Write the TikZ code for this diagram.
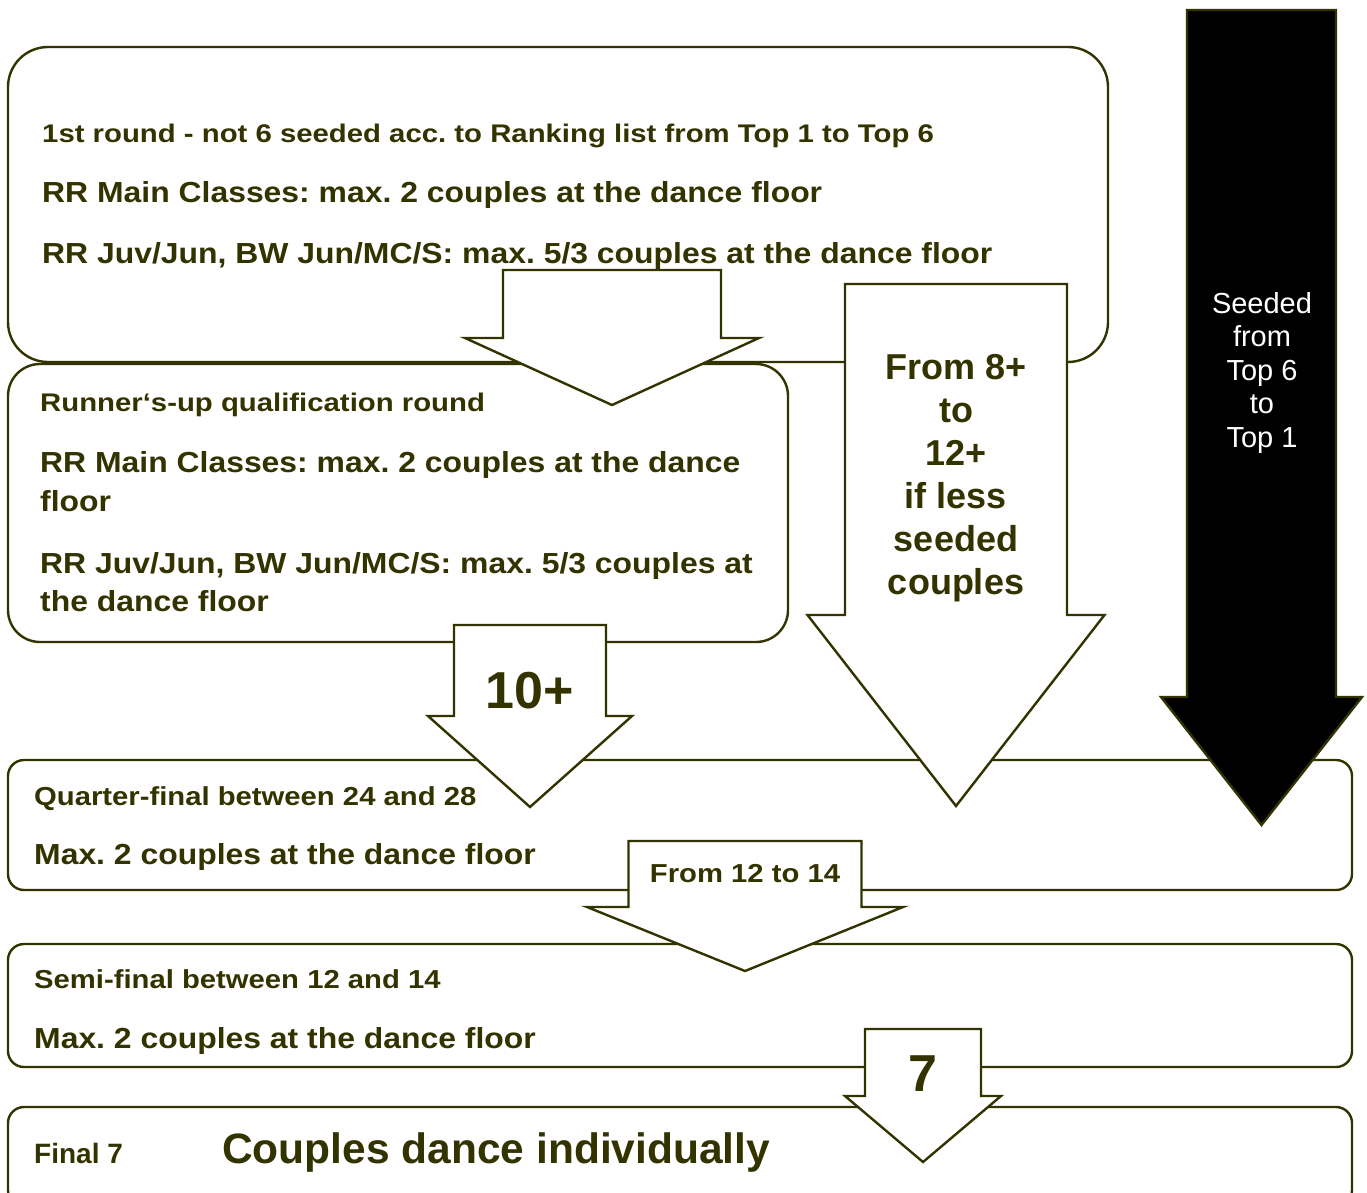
\documentclass[tikz,border=0pt]{standalone}
\usepackage{fontspec}
\usepackage{graphicx}
\setmainfont{Liberation Sans}
\definecolor{olive}{HTML}{333300}
\newcommand\myblockarrow[7]{% style, cx, top, shaft half, head base, head half, tip
  \draw[arrowshape,#1] (#2-#4,#3) -- (#2+#4,#3) -- (#2+#4,#5) -- (#2+#6,#5) -- (#2,#7) -- (#2-#6,#5) -- (#2-#4,#5) -- cycle;}
\newcommand\fs[1]{\fontsize{#1}{#1}\selectfont\bfseries}
\newcommand\hs[3]{\scalebox{#1}[1]{\fontsize{#2}{#2}\selectfont\bfseries #3}}
\frenchspacing
\begin{document}
\begin{tikzpicture}[x=1pt,y=-1pt,
  stagebox/.style={draw=olive,line width=2.4pt,fill=white},
  arrowshape/.style={draw=olive,line width=2.4pt,fill=white,line join=miter},
  lbl/.style={anchor=base west,inner sep=0pt,text=olive},
  ctr/.style={anchor=base,inner sep=0pt,text=olive}]
\useasboundingbox[fill=white] (0,0) rectangle (1367,1193);
% stage boxes
\draw[stagebox,rounded corners=40pt] (8,47) rectangle (1108,362);
\draw[stagebox,rounded corners=32pt] (8,364) rectangle (788,642);
\draw[stagebox,rounded corners=16pt] (8,760) rectangle (1352,890);
\draw[stagebox,rounded corners=16pt] (8,944) rectangle (1352,1067);
\draw[stagebox,rounded corners=16pt] (8,1107) rectangle (1352,1206);
% block arrows
\myblockarrow{}{612}{270}{109}{338}{147}{405}
\myblockarrow{}{956}{284}{111}{615}{148.5}{806}
\myblockarrow{fill=black}{1261.5}{10}{74.5}{697}{100.5}{825}
\myblockarrow{}{530}{625}{76}{716}{102}{807}
\myblockarrow{}{745}{841}{116.5}{907}{158}{971}
\myblockarrow{}{923}{1029}{58}{1096}{78}{1162}
% texts
\node[lbl] (r1a) at (42,143) {\hs{1.15}{25.5}{1st round - not 6 seeded acc. to Ranking list from Top 1 to Top 6}};
\node[lbl] (r1b) at (42,203) {\hs{1.10}{29}{RR Main Classes: max. 2 couples at the dance floor}};
\node[lbl] (r1c) at (42,263) {\hs{1.10}{29}{RR Juv/Jun, BW Jun/MC/S: max. 5/3 couples at the dance floor}};
\node[lbl] (r2a) at (40,411) {\hs{1.15}{25.5}{Runner‘s-up qualification round}};
\node[lbl] (r2b) at (40,472) {\hs{1.10}{29}{RR Main Classes: max. 2 couples at the dance}};
\node[lbl] (r2c) at (40,511) {\hs{1.10}{29}{floor}};
\node[lbl] (r2d) at (40,573) {\hs{1.10}{29}{RR Juv/Jun, BW Jun/MC/S: max. 5/3 couples at}};
\node[lbl] (r2e) at (40,611) {\hs{1.10}{29}{the dance floor}};
\foreach \t [count=\i] in {From 8+,to,12+,if less,seeded,couples}
  \node[ctr,font=\fs{36}] (a2-\i) at (956,379+43*\i-43) {\t};
\foreach \t [count=\i] in {Seeded,from,Top 6,to,Top 1}
  \node[ctr,text=white,font=\fontsize{29}{29}\selectfont] (a3-\i) at (1262,313+33.5*\i-33.5) {\t};
\node[ctr] (a4) at (530,708) {\fs{52}10+};
\node[lbl] (qa) at (34,805) {\hs{1.125}{26}{Quarter-final between 24 and 28}};
\node[lbl] (qb) at (34,864) {\hs{1.10}{29}{Max. 2 couples at the dance floor}};
\node[ctr] (a5) at (745,882) {\hs{1.125}{26}{From 12 to 14}};
\node[lbl] (sa) at (34,988) {\hs{1.125}{26}{Semi-final between 12 and 14}};
\node[lbl] (sb) at (34,1048) {\hs{1.10}{29}{Max. 2 couples at the dance floor}};
\node[ctr] (a6) at (923,1091) {\fs{52}7};
\node[lbl] (fa) at (34,1163) {\fs{28}Final 7};
\node[lbl] (fb) at (222,1163) {\fs{42.5}Couples dance individually};
\end{tikzpicture}
\end{document}
